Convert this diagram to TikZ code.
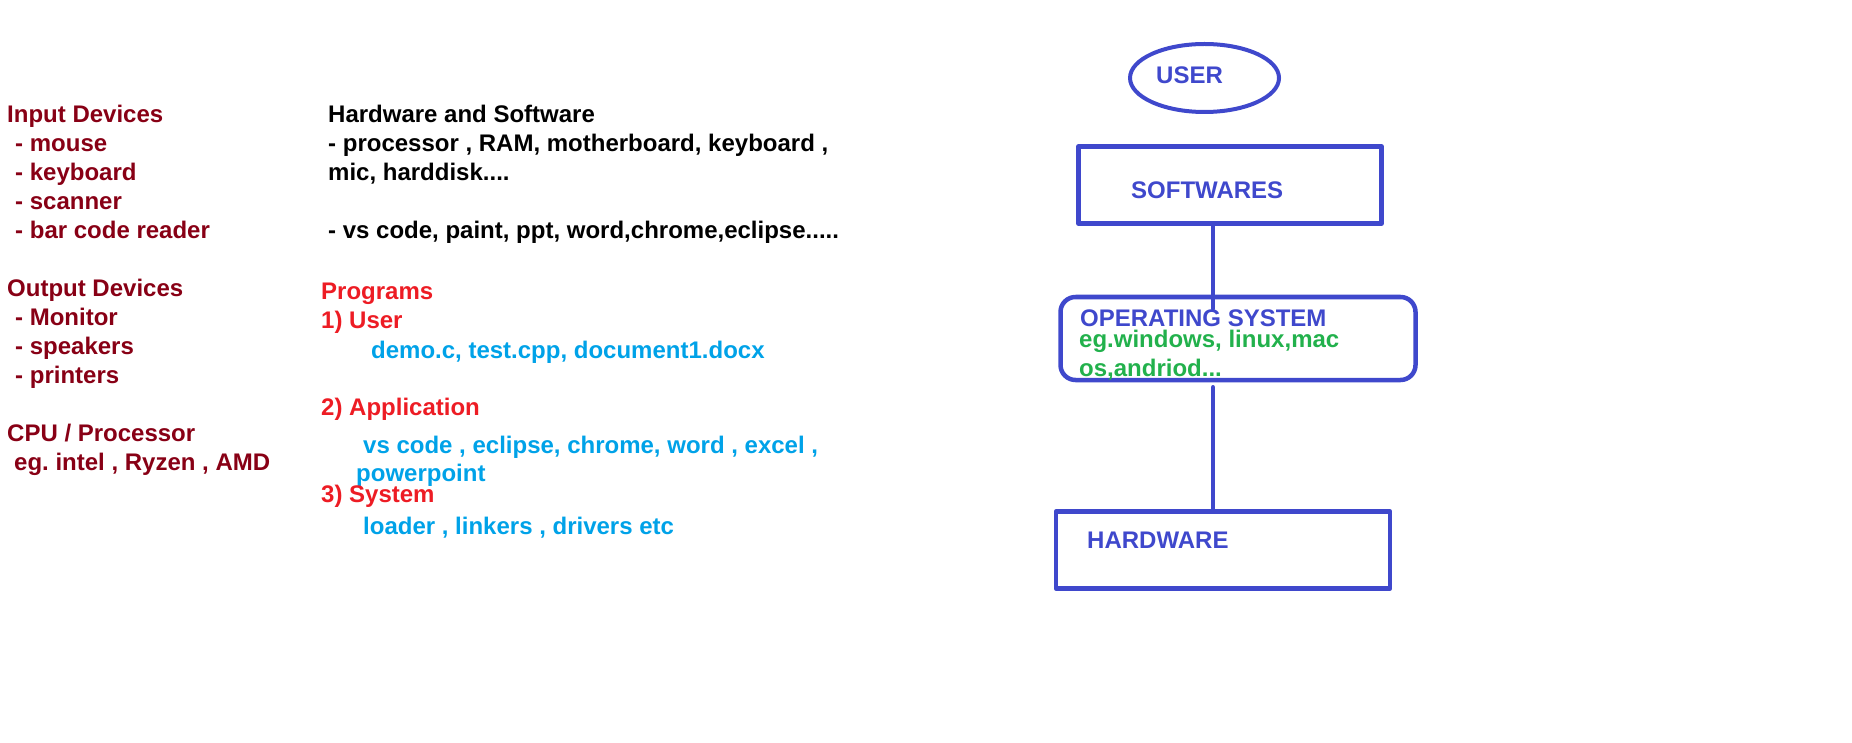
\documentclass[tikz,border=0pt]{standalone}
\usepackage{fontspec}
\setmainfont{Liberation Sans}
\usepackage{xcolor}
\usetikzlibrary{shapes.geometric}
\definecolor{osblue}{HTML}{3F48CC}
\definecolor{osgreen}{HTML}{22B14C}
\definecolor{devred}{HTML}{880015}
\definecolor{progred}{HTML}{ED1C24}
\definecolor{progblue}{HTML}{00A2E8}
\frenchspacing
\tikzset{
  txt/.style={inner sep=0pt, anchor=base west, font=\fontsize{24}{29}\selectfont\bfseries},
  col/.style={txt, anchor=north west, align=left},
  layer/.style={draw=osblue, line width=4.5pt, inner sep=0pt},
  link/.style={draw=osblue, line width=4.5pt}
}
\begin{document}
\begin{tikzpicture}[line cap=round,line join=round,x=1pt,y=-1pt]
\useasboundingbox (0,0) rectangle (1852,743);
% left column
\node[col, text=devred] (dev) at (7,104.5) {Input Devices\\
\hspace*{8pt}- mouse\\
\hspace*{8pt}- keyboard\\
\hspace*{8pt}- scanner\\
\hspace*{8pt}- bar code reader\\
\\
Output Devices\\
\hspace*{8pt}- Monitor\\
\hspace*{8pt}- speakers\\
\hspace*{8pt}- printers\\
\\
CPU / Processor\\
\hspace*{7pt}eg. intel , Ryzen , AMD};
% middle column
\node[col] (hwsw) at (328,104.5) {Hardware and Software\\
- processor , RAM, motherboard, keyboard ,\\
mic, harddisk....\\
\\
- vs code, paint, ppt, word,chrome,eclipse.....};
\node[txt, text=progred] (prog) at (321,300) {Programs};
\node[txt, text=progred] (p1) at (321,328) {1) User};
\node[txt, text=progblue] (p1ex) at (371,358) {demo.c, test.cpp, document1.docx};
\node[txt, text=progred] (p2) at (321,415) {2) Application};
\node[txt, text=progblue] (p2ex) at (363,453) {vs code , eclipse, chrome, word , excel ,};
\node[txt, text=progblue] (p2ex2) at (356,481) {powerpoint};
\node[txt, text=progred] (p3) at (321,502) {3) System};
\node[txt, text=progblue] (p3ex) at (363,534) {loader , linkers , drivers etc};
% layers
\node[layer, ellipse, line width=4pt, minimum width=149pt, minimum height=68pt] (user) at (1204.5,78) {};
\node[txt, text=osblue] (usertxt) at (1156,83.5) {USER};
\node[layer, minimum width=303pt, minimum height=77pt] (sw) at (1230,185) {};
\node[txt, text=osblue] (swtxt) at (1131,198.5) {SOFTWARES};
\node[layer, rounded corners=15pt, minimum width=355pt, minimum height=83pt] (os) at (1238,338.5) {};
\node[txt, text=osblue] (ostxt) at (1080,326) {OPERATING SYSTEM};
\node[txt, text=osgreen] (osex) at (1079,347) {eg.windows, linux,mac};
\node[txt, text=osgreen] (osex2) at (1079,376) {os,andriod...};
\node[layer, minimum width=334pt, minimum height=77pt] (hw) at (1223,550) {};
\node[txt, text=osblue] (hwtxt) at (1087,548) {HARDWARE};
\draw[link] ([xshift=-17pt]sw.south) -- ([xshift=-25pt,yshift=-14pt]os.north);
\draw[link] ([xshift=-25pt,yshift=-5pt]os.south) -- ([xshift=-10pt]hw.north);
\end{tikzpicture}
\end{document}
